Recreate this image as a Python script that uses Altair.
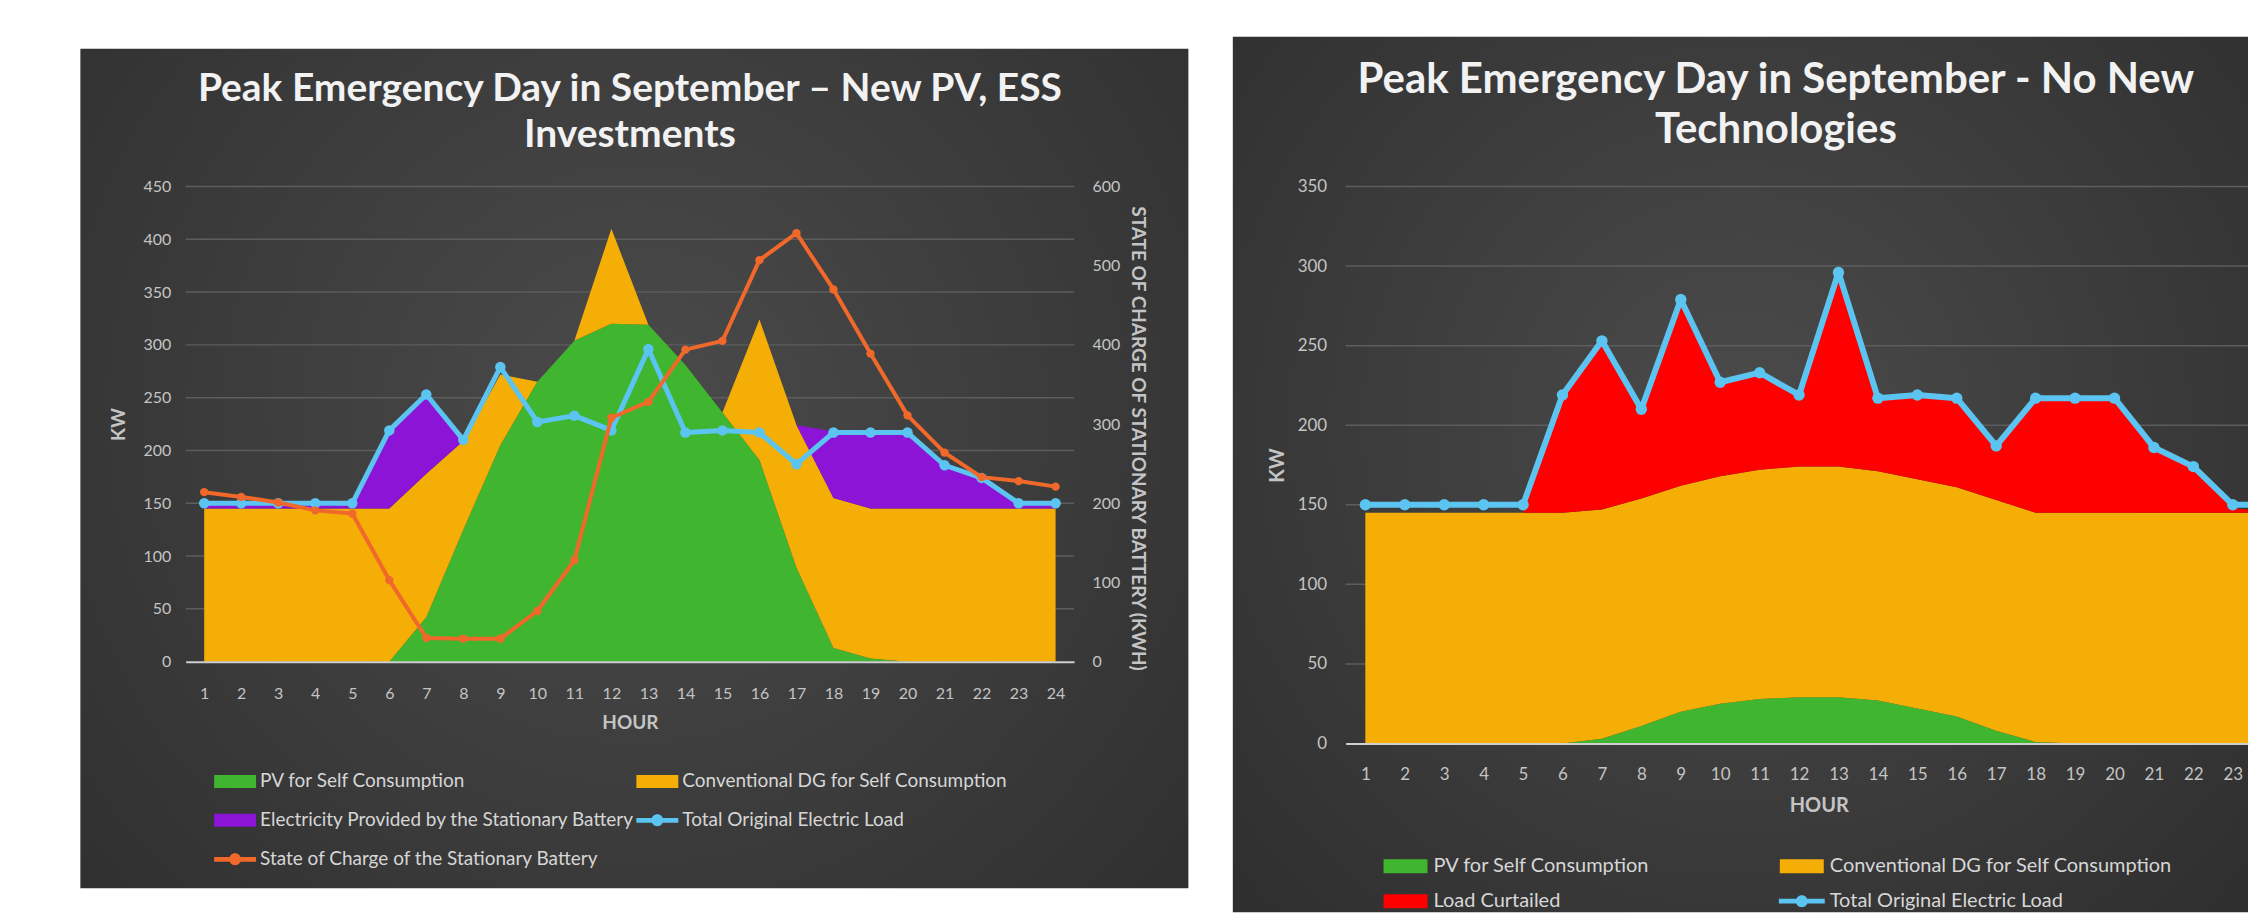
import altair as alt
import pandas as pd

# ---------------- data ----------------
hours = list(range(1, 25))

load_kw = [150, 150, 150, 150, 150, 219, 253, 210, 279, 227, 233, 219,
           296, 217, 219, 217, 187, 217, 217, 217, 186, 174, 150, 150]

# left chart: New PV, ESS investments
pv_left = [0, 0, 0, 0, 0, 0, 42, 125, 205, 265, 304, 320,
           319, 281, 236, 191, 89, 13, 3, 0, 0, 0, 0, 0]
dg_left = [145, 145, 145, 145, 145, 145, 136, 84, 67, 0, 0, 90,
           0, 0, 0, 133, 135, 142, 142, 145, 145, 145, 145, 145]
battery_left = [5, 5, 5, 5, 5, 74, 75, 0, 0, 0, 0, 0,
                0, 0, 0, 0, 0, 63, 73, 73, 41, 29, 5, 5]
soc_left = [214, 208, 201, 191, 187, 103, 30, 29, 29, 64, 128, 308,
            328, 394, 405, 507, 541, 470, 389, 311, 264, 233, 228, 221]

# right chart: no new technologies
pv_right = [0, 0, 0, 0, 0, 0, 3, 11, 20, 25, 28, 29,
            29, 27, 22, 17, 8, 1, 0, 0, 0, 0, 0, 0]
dg_right = [145, 145, 145, 145, 145, 145, 144, 143, 142, 143, 144, 145,
            145, 144, 144, 144, 145, 144, 145, 145, 145, 145, 145, 145]
curtailed_right = [0, 0, 0, 0, 0, 74, 106, 56, 117, 59, 61, 45,
                   122, 46, 53, 56, 34, 72, 72, 72, 41, 29, 3, 0]

PV = "PV for Self Consumption"
DG = "Conventional DG for Self Consumption"
BATT = "Electricity Provided by the Stationary Battery"
CURT = "Load Curtailed"
LOAD = "Total Original Electric Load"
SOC = "State of Charge of the Stationary Battery"

title_left = ["Peak Emergency Day in September \u2013 New PV, ESS", "Investments"]
title_right = ["Peak Emergency Day in September - No New", "Technologies"]

kw_ticks_left = [0, 50, 100, 150, 200, 250, 300, 350, 400, 450]
soc_ticks = [0, 100, 200, 300, 400, 500, 600]
kw_ticks_right = [0, 50, 100, 150, 200, 250, 300, 350]

# ---------------- style ----------------
FONT = "Lato"
GREEN = "#40b52f"
ORANGE = "#f5ae06"
PURPLE = "#8c14d6"
RED = "#fe0000"
BLUE = "#5bc4f1"
SOC_COLOR = "#f0682a"
AXIS_TXT = "#c4c4c4"
LEGEND_TXT = "#d6d6d6"
GRID = "#5d5d5d"
PANEL = {"gradient": "radial", "x1": 0.5, "y1": 0.45, "x2": 0.5, "y2": 0.45,
         "r1": 0, "r2": 0.75,
         "stops": [{"offset": 0, "color": "#4b4b4b"},
                   {"offset": 1, "color": "#2c2c2c"}]}

one_row = alt.Data(values=[{"k": 0}])


def rect_sym(hw, hh):
    return f"M-{hw},-{hh}H{hw}V{hh}H-{hw}Z"


def line_sym(hw):
    return (f"M-{hw},-0.24H{hw}V0.24H-{hw}Z "
            "M-0.6,0A0.6,0.6 0 1,1 0.6,0A0.6,0.6 0 1,1 -0.6,0Z")


def stack_frame(names, cols):
    rows = []
    for order, (name, vals) in enumerate(zip(names, cols)):
        for h, v in zip(hours, vals):
            rows.append({"hour": h, "series": name, "value": v, "order": order})
    return pd.DataFrame(rows)


def legend(pos, fsize, offset, sym):
    return alt.Legend(orient="none", legendX=pos[0], legendY=pos[1], title=None,
                      direction="vertical", symbolType=sym, symbolSize=400,
                      symbolStrokeWidth=0, symbolOpacity=1, labelFont=FONT,
                      labelFontSize=fsize, labelColor=LEGEND_TXT, labelOffset=offset,
                      padding=0, labelLimit=0)


def build_panel(W, H, kw_max, kw_ticks, x_max, x_vals, names, cols, colors, title, cfg):
    fs = cfg["fs"]
    clip = cfg["clip"]
    x_enc = alt.X("hour:Q", scale=alt.Scale(domain=[0.5, x_max], nice=False, zero=False),
                  axis=alt.Axis(values=x_vals, title="HOUR", grid=False, ticks=False,
                                tickSize=0, domain=True, domainColor="#cfcfcf",
                                domainWidth=2, labelAngle=0, labelPadding=cfg["xpad"],
                                labelFont=FONT, labelFontSize=fs, labelColor=AXIS_TXT,
                                labelFlush=False, labelOverlap=False, format="d",
                                titleFont=FONT, titleFontSize=cfg["afs"],
                                titleFontWeight="bold", titleColor=AXIS_TXT,
                                titleX=cfg["hour_x"], titleY=cfg["hour_y"],
                                titleBaseline="middle", zindex=1))
    kw_scale = alt.Scale(domain=[0, kw_max], nice=False, zero=True)
    y_axis = alt.Axis(values=kw_ticks, title="KW", orient="left", grid=False,
                      ticks=False, domain=False, labelPadding=cfg["ypad"],
                      labelFont=FONT, labelFontSize=fs, labelColor=AXIS_TXT,
                      labelFlush=False, titleFont=FONT, titleFontSize=cfg["afs"],
                      titleFontWeight="bold", titleColor=AXIS_TXT,
                      titleX=cfg["kw_x"], titleY=H / 2, titleAngle=270,
                      titleAlign="center", titleBaseline="middle", zindex=1)

    bx0, bx1, by0, by1 = cfg["bg"]
    spacer = alt.Chart(one_row).mark_rect(opacity=0).encode(
        x=alt.value(bx0), x2=alt.value(bx1),
        y=alt.value(cfg["spacer"]), y2=alt.value(by0))
    bg = alt.Chart(one_row).mark_rect(fill=PANEL).encode(
        x=alt.value(bx0), x2=alt.value(bx1), y=alt.value(by0), y2=alt.value(by1))

    grid = alt.Chart(pd.DataFrame({"v": kw_ticks[1:]})).mark_rule(
        color=GRID, strokeWidth=1.5).encode(
        y=alt.Y("v:Q", scale=kw_scale, axis=None))

    base = alt.Chart(stack_frame(names, cols)).transform_stack(
        stack="value", groupby=["hour"], as_=["y0", "y1"],
        sort=[alt.SortField("order", order="ascending")])

    areas = []
    for i, (name, color) in enumerate(zip(names, colors)):
        areas.append(base.transform_filter(
            alt.FieldEqualPredicate(field="series", equal=name)).mark_area(
            interpolate="linear", opacity=1, clip=clip).encode(
            x=x_enc,
            y=alt.Y("y1:Q", scale=kw_scale, axis=y_axis if i == 0 else None),
            y2="y0:Q",
            fill=alt.Fill("series:N", scale=alt.Scale(domain=[name], range=[color]),
                          legend=legend(cfg["leg"][name], cfg["lfs"], cfg["loff"],
                                        cfg["rsym"]))))

    load_df = pd.DataFrame({"hour": hours, "load": load_kw, "name": LOAD})
    load_line = alt.Chart(load_df).mark_line(
        color=BLUE, strokeWidth=cfg["lw"], strokeJoin="round", strokeCap="round",
        clip=clip).encode(
        x=x_enc, y=alt.Y("load:Q", scale=kw_scale, axis=None))
    load_pts = alt.Chart(load_df).mark_circle(size=cfg["ms"], opacity=1, clip=clip).encode(
        x=x_enc, y=alt.Y("load:Q", scale=kw_scale, axis=None),
        fill=alt.Fill("name:N", scale=alt.Scale(domain=[LOAD], range=[BLUE]),
                      legend=legend(cfg["leg"][LOAD], cfg["lfs"], cfg["loff"],
                                    cfg["lsym"])))

    ttl = alt.Chart(one_row).mark_text(
        text=title, font=FONT, fontSize=cfg["tfs"], fontWeight="bold", color="#f2f2f2",
        lineHeight=cfg["tlh"], align="center", baseline="middle").encode(
        x=alt.value(cfg["tx"]), y=alt.value(cfg["ty"]))

    layers = [spacer, bg, grid] + areas + [load_line, load_pts]

    if cfg.get("soc"):
        soc_df = pd.DataFrame({"hour": hours, "soc": soc_left, "name": SOC})
        soc_scale = alt.Scale(domain=[0, 600], nice=False, zero=True)
        soc_line = alt.Chart(soc_df).mark_line(
            color=SOC_COLOR, strokeWidth=4, strokeJoin="round").encode(
            x=x_enc,
            y=alt.Y("soc:Q", scale=soc_scale,
                    axis=alt.Axis(values=soc_ticks, orient="right",
                                  title="STATE OF CHARGE OF STATIONARY BATTERY (KWH)",
                                  grid=False, ticks=False, domain=False, labelPadding=18,
                                  labelFont=FONT, labelFontSize=fs, labelColor=AXIS_TXT,
                                  labelFlush=False, titleFont=FONT, titleFontSize=19,
                                  titleFontWeight="bold", titleColor=AXIS_TXT,
                                  titleX=64, titleY=252, titleAngle=90,
                                  titleAlign="center", titleBaseline="middle",
                                  zindex=1)))
        soc_pts = alt.Chart(soc_df).mark_circle(size=70, opacity=1).encode(
            x=x_enc, y=alt.Y("soc:Q", scale=soc_scale, axis=None),
            fill=alt.Fill("name:N", scale=alt.Scale(domain=[SOC], range=[SOC_COLOR]),
                          legend=legend(cfg["leg"][SOC], cfg["lfs"], cfg["loff"],
                                        cfg["lsym"])))
        layers += [soc_line, soc_pts]

    layers.append(ttl)
    return alt.layer(*layers).resolve_scale(y="independent", fill="independent").properties(
        width=W, height=H)


# left panel: plot origin at page (185.5, 185)
W_L, H_L = 890, 476
left_cfg = dict(
    fs=16, afs=19, lfs=19, xpad=24, ypad=15, hour_x=W_L / 2, hour_y=61, kw_x=-67,
    bg=[-105.5, W_L + 114.5, -138, H_L + 227], spacer=-154, clip=False,
    leg={PV: (39.5, 586), BATT: (39.5, 625), SOC: (39.5, 664),
         DG: (462.5, 586), LOAD: (462.5, 625)},
    loff=15, rsym=rect_sym(2.1, 0.65), lsym=line_sym(2.1), lw=5, ms=110,
    tfs=39, tlh=46, tx=W_L / 2, ty=-98, soc=True)
left = build_panel(W_L, H_L, 450, kw_ticks_left, 24.5, hours, [PV, DG, BATT],
                   [pv_left, dg_left, battery_left], [GREEN, ORANGE, PURPLE],
                   title_left, left_cfg)

# right panel: plot origin at page (1346, 181), cut at the page edge
W_R, H_R = 904, 558
right_cfg = dict(
    fs=17, afs=20, lfs=20, xpad=23, ypad=19, hour_x=474, hour_y=62, kw_x=-68,
    bg=[-113, W_R, -150, H_R + 169], spacer=-150, clip=True,
    leg={PV: (50, 671), CURT: (50, 706), DG: (447, 671), LOAD: (447, 706)},
    loff=18, rsym=rect_sym(2.2, 0.7), lsym=line_sym(2.3), lw=6, ms=130,
    tfs=42, tlh=50, tx=431, ty=-107)
right = build_panel(W_R, H_R, 350, kw_ticks_right, 0.5 + W_R / 39.5, hours[:23],
                    [PV, DG, CURT], [pv_right, dg_right, curtailed_right],
                    [GREEN, ORANGE, RED], title_right, right_cfg)

chart = alt.hconcat(left, right, spacing=43).properties(
    padding={"left": 72, "top": 23, "right": 0, "bottom": 0},
    background="white",
).configure_view(stroke="transparent")

chart.save("out.html", embed_options={"renderer": "svg", "actions": False})
